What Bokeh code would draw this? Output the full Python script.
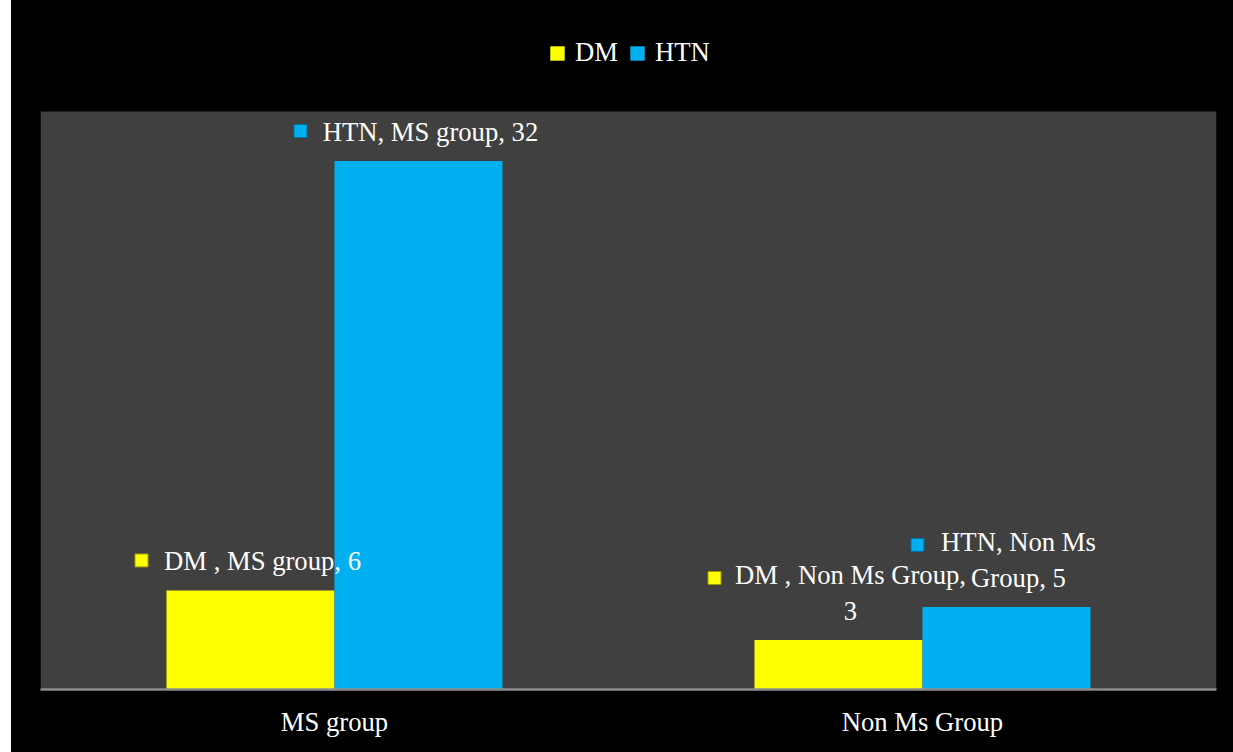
import textwrap
from bokeh.plotting import figure
from bokeh.layouts import row
from bokeh.models import ColumnDataSource, FactorRange, Range1d, Spacer
from bokeh.transform import dodge
from bokeh.core.properties import value
from bokeh.embed import file_html
from bokeh.resources import INLINE

# ---- data ----
categories = ["MS group", "Non Ms Group"]
series_names = ["DM ", "HTN"]
dm_values = [6, 3]
htn_values = [32, 5]
series_values = [dm_values, htn_values]
series_colors = ["#FFFF00", "#00B0F0"]
series_edges = ["#9c9c00", "#006f99"]
y_max = 35

# ---- style ----
FONT = "Liberation Serif"
FS = "20pt"
PLOT_W, PLOT_H = 1176, 578      # gray plot area in px
HEADROOM = 111                  # px above plot area (legend zone)
FRAME_H = PLOT_H + HEADROOM
y_top = y_max * FRAME_H / PLOT_H
bar_w = 0.2857
bar_offsets = [-bar_w / 2, bar_w / 2]
label_wrap = [[None, 18], [None, 11]]           # wrap width per series / category
square_dx = [[-121, -136], [-130, -101]]         # px, key square relative to text centre
text_dx, text_dy, line_h = 12, -14, 32

p = figure(
    x_range=FactorRange(factors=categories, range_padding=0),
    y_range=Range1d(0, y_top),
    frame_width=PLOT_W, frame_height=FRAME_H,
    min_border_left=29, min_border_right=17, min_border_top=0, min_border_bottom=63,
    output_backend="svg", toolbar_location=None, y_axis_location=None,
    background_fill_color="#000000", border_fill_color="#000000",
    outline_line_color=None,
)
p.styles = {"background-color": "#000000"}
p.xgrid.visible = False
p.ygrid.visible = False

# plot-area background
p.quad(left=0, right=len(categories), bottom=0, top=y_max,
       fill_color="#404040", line_color=None)

src = ColumnDataSource(dict(cat=categories, DM=dm_values, HTN=htn_values))
cols = ["DM", "HTN"]

for si, (name, col) in enumerate(zip(series_names, series_colors)):
    p.vbar(x=dodge("cat", bar_offsets[si], range=p.x_range), top=cols[si], width=bar_w,
           source=src, fill_color=col, line_color=None, legend_label=name.strip())

for si, (name, vals, col, edge) in enumerate(zip(series_names, series_values, series_colors, series_edges)):
    xs, ys, texts, sq_x, sq_y = [], [], [], [], []
    for ci, (cat, v) in enumerate(zip(categories, vals)):
        t = f"{name}, {cat}, {v}"
        w = label_wrap[si][ci]
        if w:
            t = textwrap.fill(t, w)
        n = t.count("\n") + 1
        xc = ci + 0.5 + bar_offsets[si]
        xs.append(xc)
        ys.append(v)
        texts.append(t)
        sq_x.append(xc + (text_dx + square_dx[si][ci]) / (PLOT_W / len(categories)))
        sq_y.append(v - (text_dy + 16 - line_h * n) * y_max / PLOT_H)
    lsrc = ColumnDataSource(dict(x=xs, y=ys, text=texts, sx=sq_x, sy=sq_y))
    p.text(x="x", y="y", text="text", source=lsrc, x_offset=text_dx, y_offset=text_dy,
           text_align="center", text_baseline="bottom", text_font=value(FONT),
           text_font_size=FS, text_color="#FFFFFF", text_line_height=1.2)
    p.scatter(x="sx", y="sy", source=lsrc, marker="square", size=13,
              fill_color=col, line_color=edge, line_width=1)

ax = p.xaxis[0]
ax.axis_line_color = "#8c8c8c"
ax.axis_line_width = 2.5
ax.major_tick_line_color = None
ax.minor_tick_line_color = None
ax.major_label_text_font = FONT
ax.major_label_text_font_size = FS
ax.major_label_text_color = "#FFFFFF"
ax.major_label_standoff = 11

lg = p.legend[0]
lg.location = (508, 621)
lg.orientation = "horizontal"
lg.background_fill_alpha = 0
lg.border_line_color = None
lg.label_text_font = FONT
lg.label_text_font_size = FS
lg.label_text_color = "#FFFFFF"
lg.glyph_width = 18
lg.glyph_height = 18
lg.label_standoff = 9
lg.spacing = 10
lg.padding = 0
lg.margin = 0

spacer = Spacer(width=11, height=FRAME_H + 63, styles={"background-color": "#FFFFFF"})
layout = row(spacer, p)
open("out.html", "w").write(file_html(layout, INLINE))
